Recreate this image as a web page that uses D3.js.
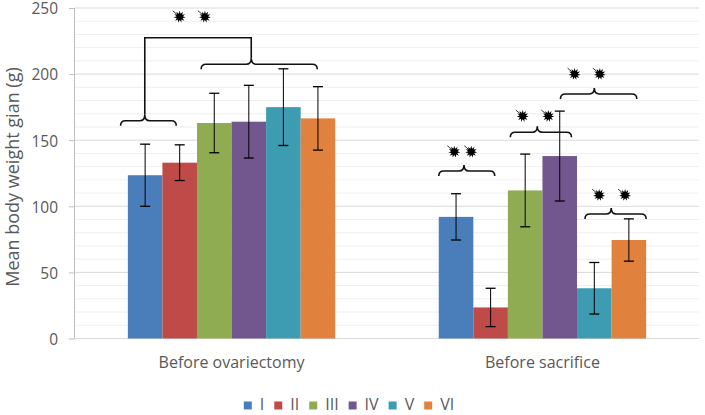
<!DOCTYPE html>
<html><head><meta charset="utf-8">
<script src="https://cdn.jsdelivr.net/npm/d3@7"></script>
<style>body{margin:0;background:#fff}svg{display:block}text{font-family:"Open Sans",sans-serif}</style>
</head><body><svg id="c" width="705" height="415"></svg>
<script>
const categories = ["Before ovariectomy", "Before sacrifice"];
const groups = ["I", "II", "III", "IV", "V", "VI"];
const colors = ["#4a7ebb", "#be4b48", "#8fac52", "#72578f", "#3d9bb2", "#e0823d"];
const means = {
  "I":   [123.5, 92],
  "II":  [133, 23.5],
  "III": [163, 112],
  "IV":  [164, 138],
  "V":   [175, 38],
  "VI":  [166.5, 74.5]
};
const errors = {
  "I":   [23.5, 17.5],
  "II":  [13.5, 14.5],
  "III": [22.5, 27.5],
  "IV":  [27.5, 34],
  "V":   [29, 19.5],
  "VI":  [24, 16]
};
const yTicks = [0, 50, 100, 150, 200, 250];
const yMinor = d3.range(0, 251, 10);
// significance braces: category index, span in bar units, tip position, y value
const braces = [
  {c:0, x0:-0.21, x1:1.40, tip:0.49, y:164.7},
  {c:0, x0:2.12, x1:5.48, tip:3.57, y:207.4},
  {c:1, x0:0.0, x1:1.62, tip:0.73, y:126.7},
  {c:1, x0:2.07, x1:3.84, tip:2.85, y:156},
  {c:1, x0:3.52, x1:5.73, tip:4.5, y:185},
  {c:1, x0:4.23, x1:6.0, tip:4.99, y:94.2}
];
const connector = {c:0, a:0, b:1, y:227.5};
const stars = [
  {c:0, x:1.50, y:243.4}, {c:0, x:2.23, y:243.4},
  {c:1, x:0.45, y:141.3}, {c:1, x:0.94, y:141.3},
  {c:1, x:2.43, y:168.3}, {c:1, x:3.17, y:168.3},
  {c:1, x:3.93, y:200}, {c:1, x:4.66, y:200},
  {c:1, x:4.64, y:108.5}, {c:1, x:5.39, y:108.5}
];

const svg = d3.select("#c");
const L = 75, R = 699, T = 8, B = 338.5;
const y = d3.scaleLinear().domain([0, 250]).range([B, T]);
const x0 = d3.scaleBand().domain(categories).range([L, R]).paddingInner(0.333).paddingOuter(0.17);
const x1 = d3.scaleBand().domain(groups).range([0, x0.bandwidth()]);
const bw = x1.bandwidth();
const bx = (c, u) => x0(categories[c]) + u * bw;

// grid
svg.append("g").selectAll("line").data(yMinor.filter(v => v % 50 !== 0)).join("line")
  .attr("x1", L).attr("x2", R).attr("y1", d => y(d)).attr("y2", d => y(d))
  .attr("stroke", "#efefef").attr("stroke-width", 1);
svg.append("g").selectAll("line").data(yTicks.filter(v => v > 0)).join("line")
  .attr("x1", L).attr("x2", R).attr("y1", d => y(d)).attr("y2", d => y(d))
  .attr("stroke", "#d9d9d9").attr("stroke-width", 1);

// y axis
const ya = svg.append("g").attr("transform", `translate(${L},0)`)
  .call(d3.axisLeft(y).tickValues(yTicks).tickSize(6).tickPadding(11));
ya.select(".domain").attr("stroke", "#bfbfbf").attr("d", `M-0.5,${T}V${B}`);
ya.selectAll(".tick line").attr("stroke", "#bfbfbf");
ya.selectAll("text").attr("fill", "#595959").attr("dy", "0.38em")
  .style("font-size", "15.5px").style("font-family", "'Open Sans',sans-serif");
// baseline
svg.append("line").attr("x1", L - 6).attr("x2", R).attr("y1", y(0)).attr("y2", y(0)).attr("stroke", "#d9d9d9");

// bars
const cg = svg.append("g").selectAll("g").data(categories).join("g")
  .attr("transform", d => `translate(${x0(d)},0)`);
cg.selectAll("rect").data((d, i) => groups.map((g, k) => ({g, k, v: means[g][i], e: errors[g][i]}))).join("rect")
  .attr("x", d => x1(d.g)).attr("width", bw)
  .attr("y", d => y(d.v)).attr("height", d => y(0) - y(d.v))
  .attr("fill", d => colors[d.k]);
const eb = cg.selectAll("g.eb").data((d, i) => groups.map((g, k) => ({g, k, v: means[g][i], e: errors[g][i]}))).join("g").attr("class", "eb");
eb.append("line").attr("x1", d => x1(d.g) + bw / 2).attr("x2", d => x1(d.g) + bw / 2)
  .attr("y1", d => y(d.v + d.e)).attr("y2", d => y(d.v - d.e)).attr("stroke", "#000").attr("stroke-width", 1);
[1, -1].forEach(s => {
  eb.append("line").attr("x1", d => x1(d.g) + bw / 2 - 5).attr("x2", d => x1(d.g) + bw / 2 + 5)
    .attr("y1", d => y(d.v + s * d.e)).attr("y2", d => y(d.v + s * d.e)).attr("stroke", "#000").attr("stroke-width", 1.3);
});

// category labels
svg.append("g").selectAll("text").data(categories).join("text")
  .attr("x", d => x0(d) + x0.bandwidth() / 2).attr("y", 368)
  .attr("text-anchor", "middle").attr("fill", "#595959").style("font-size", "16px").text(d => d);

// y title
svg.append("text").attr("transform", `translate(19,177) rotate(-90)`)
  .attr("text-anchor", "middle").attr("fill", "#595959").style("font-size", "18px")
  .text("Mean body weight gian (g)");

// braces
function bracePath(b) {
  const a = bx(b.c, b.x0), e = bx(b.c, b.x1), t = bx(b.c, b.tip), yy = y(b.y);
  const r = 5, h1 = 5, h2 = 6;
  return `M${a},${yy + h1}Q${a},${yy} ${a + r},${yy}L${t - r},${yy}Q${t},${yy} ${t},${yy - h2}` +
         `Q${t},${yy} ${t + r},${yy}L${e - r},${yy}Q${e},${yy} ${e},${yy + h1}`;
}
svg.append("g").selectAll("path").data(braces).join("path")
  .attr("d", bracePath).attr("fill", "none").attr("stroke", "#111").attr("stroke-width", 1.6);
{
  const ba = braces[connector.a], bb = braces[connector.b];
  const xa = bx(ba.c, ba.tip), xb = bx(bb.c, bb.tip);
  svg.append("path").attr("d", `M${xa},${y(ba.y) - 6}V${y(connector.y)}H${xb}V${y(bb.y) - 6}`)
    .attr("fill", "none").attr("stroke", "#111").attr("stroke-width", 1.6);
}
// stars
const starPts = d3.range(22).map(i => [i * Math.PI / 11, i % 2 ? 3.2 : 6]);
const starPath = d3.lineRadial().curve(d3.curveLinearClosed)(starPts);
const sg = svg.append("g").selectAll("g").data(stars).join("g")
  .attr("transform", d => `translate(${bx(d.c, d.x)},${y(d.y)})`);
sg.append("path").attr("d", starPath).attr("fill", "#000");
sg.append("line").attr("x1", 0).attr("y1", 0).attr("x2", -7).attr("y2", -6).attr("stroke", "#000").attr("stroke-width", 0.8);

// legend
const lg = svg.append("g");
let cx = 0;
groups.forEach((g, k) => {
  const it = lg.append("g").attr("transform", `translate(${cx},0)`);
  it.append("rect").attr("x", 0).attr("y", -8).attr("width", 8).attr("height", 8).attr("fill", colors[k]);
  const t = it.append("text").attr("x", 16).attr("y", 0.5).attr("fill", "#595959").style("font-size", "16px").text(g);
  cx += 16 + t.node().getComputedTextLength() + 10;
});
const lw = cx - 10;
lg.attr("transform", `translate(${349 - lw / 2},409.5)`);
</script></body></html>
